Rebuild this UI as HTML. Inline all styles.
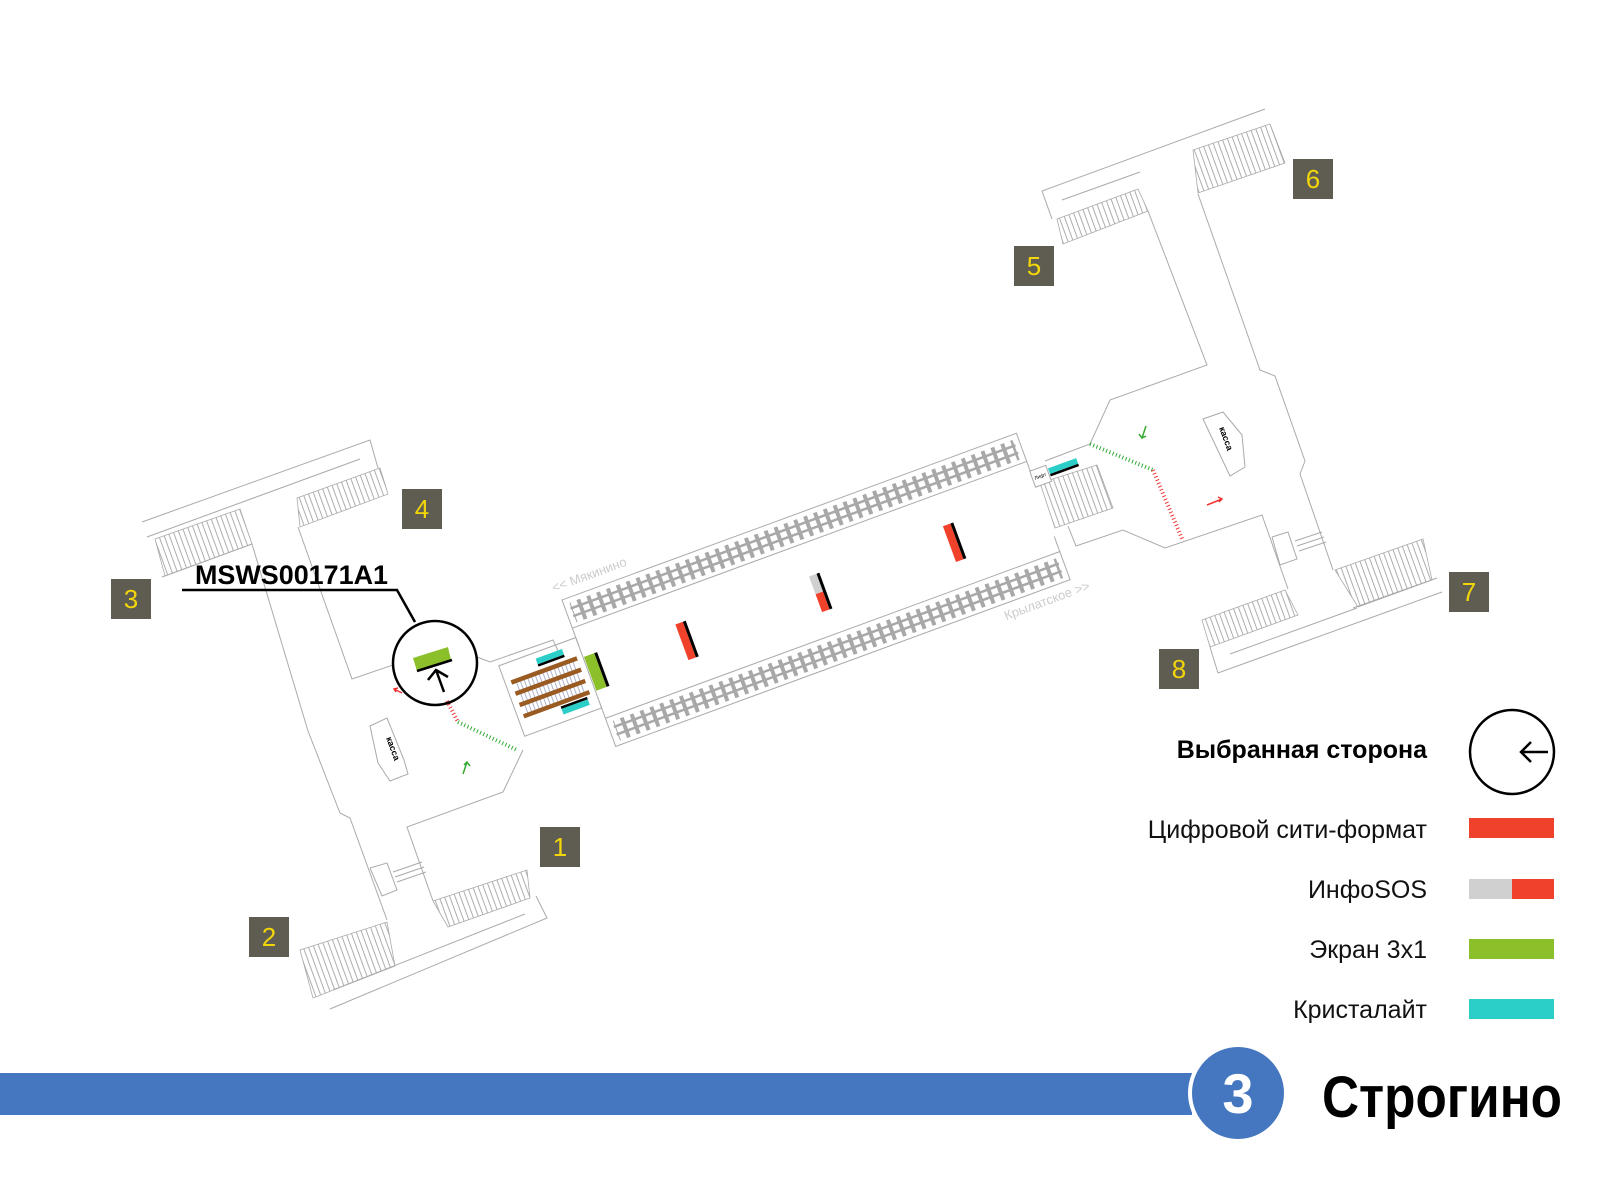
<!DOCTYPE html>
<html><head><meta charset="utf-8"><style>
html,body{margin:0;padding:0;background:#fff;}
svg{display:block;}
text{font-family:"Liberation Sans",sans-serif;}
</style></head><body>
<svg width="1600" height="1200" viewBox="0 0 1600 1200" xmlns="http://www.w3.org/2000/svg">
<defs>
<pattern id="st" width="5" height="10" patternUnits="userSpaceOnUse" patternTransform="rotate(-20)">
<line x1="1" y1="0" x2="1" y2="10" stroke="#999" stroke-width="0.8"/>
</pattern>
<pattern id="sl" width="10.5" height="30" patternUnits="userSpaceOnUse">
<rect x="3" y="0" width="4" height="30" fill="#a8a8a8"/>
</pattern>
<pattern id="esc" width="4" height="10" patternUnits="userSpaceOnUse">
<line x1="1" y1="0" x2="1" y2="10" stroke="#9aa0c0" stroke-width="0.8"/>
</pattern>
</defs>

<g fill="none" stroke="#aaa" stroke-width="1">
<polyline points="142,522 370,440 378,468"/>
<line x1="147" y1="537" x2="360" y2="459"/>
<polyline points="162,577 252,544 308,731 340,813 350,818 387,920"/>
<polyline points="298,527 352,679 393,665"/>
<polyline points="477,657 490,662 553,640 560,655"/>
<polyline points="523,750 503,792 407,827 433,901"/>
<polyline points="536,896 547,918 330,1009"/>
<line x1="525" y1="914" x2="333" y2="990"/>
<polyline points="370,868 387,863 397,890 382,896 370,868"/>
<line x1="393" y1="872" x2="422" y2="862"/><line x1="395" y1="877" x2="424" y2="867"/><line x1="397" y1="882" x2="426" y2="872"/>
<polygon points="370,726 387,718 404,760 408,774 390,781 378,763"/>
<polyline points="1052,219 1042,191 1265,109"/>
<line x1="1062" y1="200" x2="1140" y2="172"/>
<polyline points="1148,211 1207,365 1110,400 1090,444 1045,461"/>
<polyline points="1198,194 1260,370 1275,376 1305,461 1300,474 1333,570"/>
<polyline points="1068,526 1076,546 1123,530 1165,548 1262,515 1288,589"/>
<polygon points="1203,419 1223,412 1242,435 1245,467 1230,476"/>
<polyline points="1272,537 1288,532 1297,559 1280,565 1272,537"/>
<line x1="1295" y1="541" x2="1322" y2="532"/><line x1="1297" y1="546" x2="1324" y2="537"/><line x1="1299" y1="551" x2="1326" y2="542"/>
<polyline points="1210,647 1218,673 1442,592"/>
<line x1="1230" y1="654" x2="1357" y2="608"/>
<line x1="1353" y1="608" x2="1437" y2="578"/>
</g>

<g stroke="#aaa" stroke-width="0.8" fill="url(#st)">
<polygon points="155,539 240,509 252,544 165,576"/>
<polygon points="297,498 380,468 388,494 300,527"/>
<polygon points="433,901 527,870 530,898 448,927"/>
<polygon points="300,950 387,922 395,966 313,998"/>
<polygon points="1057,219 1138,189 1148,211 1063,244"/>
<polygon points="1193,150 1270,124 1285,163 1198,193"/>
<polygon points="1335,570 1423,539 1432,580 1358,607"/>
<polygon points="1202,620 1285,590 1298,615 1210,647"/>
<polygon points="1040,483 1097,465 1113,508 1055,528"/>
</g>

<text x="0" y="0" font-size="9" font-weight="bold" fill="#000" transform="translate(386,738) rotate(70)">касса</text>
<text x="0" y="0" font-size="9" font-weight="bold" fill="#000" transform="translate(1219,428) rotate(70)">касса</text>

<polyline points="447,701 458,722" fill="none" stroke="#e33" stroke-width="4" stroke-dasharray="1 2.5"/>
<polyline points="458,722 517,750" fill="none" stroke="#3a3" stroke-width="4" stroke-dasharray="1 2.5"/>
<polyline points="1090,444 1153,470" fill="none" stroke="#3a3" stroke-width="4" stroke-dasharray="1 2.5"/>
<polyline points="1153,470 1183,541" fill="none" stroke="#e33" stroke-width="4" stroke-dasharray="1 2.5"/>
<g stroke-width="1.5" fill="none">
<path d="M463,774 L467,762 M464,765 L467,762 L470,766" stroke="#3a3"/>
<path d="M1146,426 L1142,438 M1139,434 L1142,438 L1146,436" stroke="#3a3"/>
<path d="M1207,505 L1222,499 M1218,497 L1222,499 L1219,502" stroke="#e33"/>
<path d="M394,689 L402,693 M396,692 L394,689 L398,688" stroke="#e33"/>
</g>

<rect x="1032" y="468" width="17" height="17" fill="#fff" stroke="#aaa" transform="rotate(-20 1040 476)"/>
<text x="1034" y="478" font-size="5" fill="#000" transform="rotate(-20 1040 476)">Лифт</text>
<g transform="translate(1050,474) rotate(-20)"><rect x="0" y="-6" width="30" height="6" fill="#2ccfc8"/><rect x="0" y="0" width="30" height="2.5" fill="#000"/></g>

<g transform="translate(562,600) rotate(-20.15)">
<g fill="none" stroke="#aaa" stroke-width="1">
<rect x="0" y="0" width="484" height="30"/>
<rect x="0" y="126" width="484" height="30"/>
<line x1="0" y1="30" x2="0" y2="50"/><line x1="0" y1="108" x2="0" y2="126"/>
<line x1="484" y1="30" x2="484" y2="40"/><line x1="484" y1="110" x2="484" y2="126"/>
<rect x="-82" y="40" width="82" height="75"/>
</g>
<rect x="6" y="5" width="472" height="21" fill="url(#sl)"/>
<line x1="5" y1="11" x2="479" y2="11" stroke="#a8a8a8" stroke-width="2.5"/>
<line x1="5" y1="19" x2="479" y2="19" stroke="#a8a8a8" stroke-width="2.5"/>
<rect x="6" y="131" width="472" height="21" fill="url(#sl)"/>
<line x1="5" y1="137" x2="479" y2="137" stroke="#a8a8a8" stroke-width="2.5"/>
<line x1="5" y1="145" x2="479" y2="145" stroke="#a8a8a8" stroke-width="2.5"/>
<rect x="98" y="62" width="8" height="38" fill="#f0412a"/><rect x="106" y="62" width="3" height="38" fill="#000"/>
<rect x="240" y="63" width="8" height="19" fill="#d0d0d0"/><rect x="240" y="82" width="8" height="19" fill="#f0412a"/><rect x="248" y="63" width="3" height="38" fill="#000"/>
<rect x="383" y="62" width="8" height="38" fill="#f0412a"/><rect x="391" y="62" width="3" height="38" fill="#000"/>
<rect x="1" y="61" width="11" height="36" fill="#8cc02a"/><rect x="12" y="61" width="3" height="36" fill="#000"/>
<rect x="-72" y="58" width="62" height="40" fill="url(#esc)"/>
<rect x="-45" y="46" width="28" height="6" fill="#2ccfc8"/><rect x="-45" y="52" width="28" height="2.5" fill="#000"/>
<rect x="-38" y="102" width="28" height="6" fill="#2ccfc8"/><rect x="-38" y="99.5" width="28" height="2.5" fill="#000"/>
<g stroke="#9a5b22" stroke-width="4.5">
<line x1="-76" y1="60" x2="-6" y2="60"/><line x1="-76" y1="72" x2="-6" y2="72"/>
<line x1="-76" y1="84" x2="-6" y2="84"/><line x1="-76" y1="96" x2="-6" y2="96"/>
</g>
<text x="-5" y="-10" font-size="13" fill="#ccc">&lt;&lt; Мякинино</text>
<text x="410" y="172" font-size="13" fill="#ccc">Крылатское &gt;&gt;</text>
</g>

<polyline points="182,590 397,590 415,622" fill="none" stroke="#000" stroke-width="2.5"/>
<text x="195" y="584" font-size="27" font-weight="bold" fill="#000" textLength="193" lengthAdjust="spacingAndGlyphs">MSWS00171A1</text>
<circle cx="435" cy="663" r="42" fill="none" stroke="#000" stroke-width="2.5"/>
<polygon points="413,658 448,647 451,660 417,671" fill="#8cc02a"/>
<line x1="417" y1="671" x2="452" y2="660" stroke="#000" stroke-width="2.5"/>
<path d="M444,692 L436,670 M428,680 L436,670 L448,677" fill="none" stroke="#000" stroke-width="2.5"/>

<g fill="#5f5d52">
<rect x="540" y="827" width="40" height="40"/><rect x="249" y="917" width="40" height="40"/>
<rect x="111" y="579" width="40" height="40"/><rect x="402" y="489" width="40" height="40"/>
<rect x="1014" y="246" width="40" height="40"/><rect x="1293" y="159" width="40" height="40"/>
<rect x="1449" y="572" width="40" height="40"/><rect x="1159" y="649" width="40" height="40"/>
</g>
<g fill="#f2d60a" font-size="26" text-anchor="middle">
<text x="560" y="856">1</text><text x="269" y="946">2</text><text x="131" y="608">3</text><text x="422" y="518">4</text>
<text x="1034" y="275">5</text><text x="1313" y="188">6</text><text x="1469" y="601">7</text><text x="1179" y="678">8</text>
</g>

<text x="1427" y="758" font-size="25" font-weight="bold" text-anchor="end" fill="#000">Выбранная сторона</text>
<circle cx="1512" cy="752" r="42" fill="none" stroke="#000" stroke-width="2.5"/>
<path d="M1548,752 L1521,752 M1531,742 L1521,752 L1531,762" fill="none" stroke="#000" stroke-width="2.5"/>
<g font-size="25" text-anchor="end" fill="#111">
<text x="1427" y="838">Цифровой сити-формат</text>
<text x="1427" y="898">ИнфоSOS</text>
<text x="1427" y="958">Экран 3x1</text>
<text x="1427" y="1018">Кристалайт</text>
</g>
<rect x="1469" y="818" width="85" height="20" fill="#f0412a"/>
<rect x="1469" y="879" width="43" height="20" fill="#d0d0d0"/><rect x="1512" y="879" width="42" height="20" fill="#f0412a"/>
<rect x="1469" y="939" width="85" height="20" fill="#8cc02a"/>
<rect x="1469" y="999" width="85" height="20" fill="#2ccfc8"/>

<rect x="0" y="1073" width="1192" height="42" fill="#4477bf"/>
<circle cx="1238" cy="1093" r="50" fill="#fff"/>
<circle cx="1238" cy="1093" r="46" fill="#4477bf"/>
<text x="1238" y="1113" font-size="56" font-weight="bold" fill="#fff" text-anchor="middle">3</text>
<text x="1322" y="1117" font-size="58" font-weight="bold" fill="#000" textLength="240" lengthAdjust="spacingAndGlyphs">Строгино</text>
</svg>
</body></html>
